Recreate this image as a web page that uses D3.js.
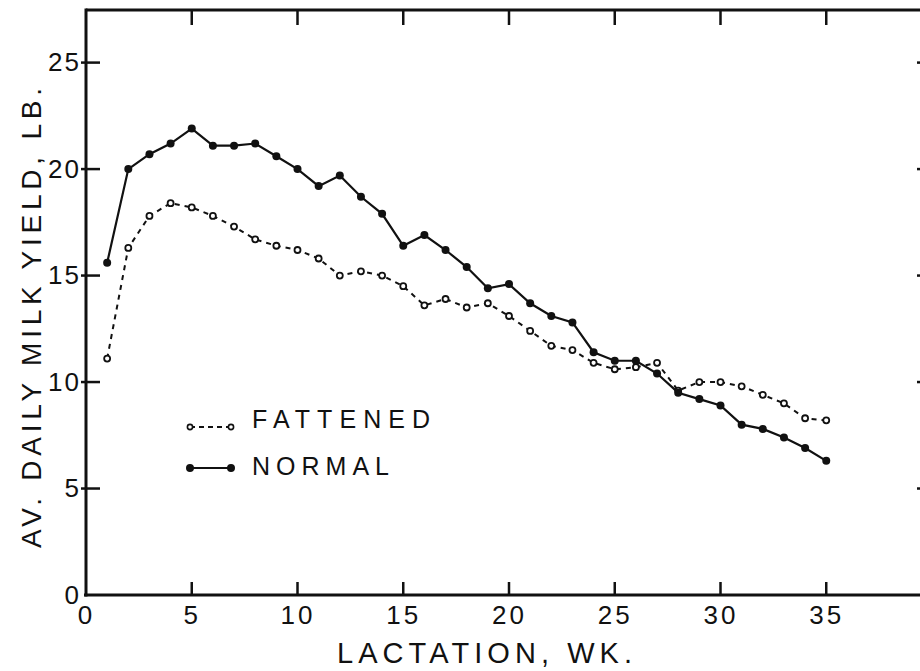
<!DOCTYPE html>
<html>
<head>
<meta charset="utf-8">
<script src="https://cdn.jsdelivr.net/npm/d3@7"></script>
<style>
  html, body { margin: 0; padding: 0; background: #fff; }
  svg { display: block; }
  text { font-family: "Liberation Sans", "DejaVu Sans", sans-serif; fill: #111; }
</style>
</head>
<body>
<svg id="chart" width="920" height="671"></svg>
<script>
// Lactation week of each observation
const weeks = [1, 2, 3, 4, 5, 6, 7, 8, 9, 10, 11, 12, 13, 14, 15, 16, 17, 18,
  19, 20, 21, 22, 23, 24, 25, 26, 27, 28, 29, 30, 31, 32, 33, 34, 35];

// Average daily milk yield (lb) per week
const normal = [15.6, 20.0, 20.7, 21.2, 21.9, 21.1, 21.1, 21.2, 20.6, 20.0,
  19.2, 19.7, 18.7, 17.9, 16.4, 16.9, 16.2, 15.4, 14.4, 14.6, 13.7, 13.1,
  12.8, 11.4, 11.0, 11.0, 10.4, 9.5, 9.2, 8.9, 8.0, 7.8, 7.4, 6.9, 6.3];
const fattened = [11.1, 16.3, 17.8, 18.4, 18.2, 17.8, 17.3, 16.7, 16.4, 16.2,
  15.8, 15.0, 15.2, 15.0, 14.5, 13.6, 13.9, 13.5, 13.7, 13.1, 12.4, 11.7,
  11.5, 10.9, 10.6, 10.7, 10.9, 9.6, 10.0, 10.0, 9.8, 9.4, 9.0, 8.3, 8.2];

const seriesNames = ["FATTENED", "NORMAL"];

// Tick values
const xTicks = [0, 5, 10, 15, 20, 25, 30, 35];
const xInnerTicks = [5, 10, 15, 20, 25, 30, 35, 40];
const yTicks = [0, 5, 10, 15, 20, 25];
const yInnerTicks = [5, 10, 15, 20, 25];
const xTickLabels = ["0", "5", "10", "15", "20", "25", "30", "35"];

const xTitle = "LACTATION, WK.";
const yTitle = "AV. DAILY MILK YIELD, LB.";

const svg = d3.select("#chart");

const plot = { left: 86, right: 932, top: 10, bottom: 595 };
const x = d3.scaleLinear().domain([0, 40]).range([plot.left, plot.right]);
const y = d3.scaleLinear().domain([0, 27.47]).range([plot.bottom, plot.top]);

// Frame (top and right edges)
const frame = svg.append("g").attr("stroke", "#111").attr("stroke-width", 3).attr("fill", "none");
frame.append("line").attr("x1", plot.left).attr("x2", plot.right).attr("y1", plot.top).attr("y2", plot.top);
frame.append("line").attr("x1", plot.right).attr("x2", plot.right).attr("y1", plot.top).attr("y2", plot.bottom);

// Bottom axis: line and labels
const gx = svg.append("g").attr("transform", `translate(0,${plot.bottom})`)
  .call(d3.axisBottom(x).tickValues(xTicks).tickSize(0)
    .tickPadding(11).tickFormat((d, i) => xTickLabels[i]));
gx.select(".domain").attr("stroke", "#111").attr("stroke-width", 3)
  .attr("d", `M${plot.left - 2},0H${plot.right}`);
gx.selectAll(".tick line").remove();
gx.selectAll(".tick text").attr("font-size", 26).attr("letter-spacing", 3)
  .attr("font-family", "Liberation Sans, sans-serif").attr("fill", "#111");

// Left axis: line and labels
const gy = svg.append("g").attr("transform", `translate(${plot.left},0)`)
  .call(d3.axisLeft(y).tickValues(yTicks).tickSize(0).tickPadding(5));
gy.select(".domain").attr("stroke", "#111").attr("stroke-width", 3)
  .attr("d", `M0,${plot.bottom + 1.5}V${plot.top - 1.5}`);
gy.selectAll(".tick line").remove();
gy.selectAll(".tick text").attr("font-size", 26).attr("letter-spacing", 2)
  .attr("font-family", "Liberation Sans, sans-serif").attr("fill", "#111");

// Inward tick marks on all four sides
const ticks = svg.append("g").attr("stroke", "#111").attr("stroke-width", 2.5);
ticks.selectAll(".tb").data(xInnerTicks).join("line").attr("class", "tb")
  .attr("x1", d => x(d)).attr("x2", d => x(d))
  .attr("y1", plot.bottom).attr("y2", plot.bottom - 13);
ticks.selectAll(".tt").data(xInnerTicks).join("line").attr("class", "tt")
  .attr("x1", d => x(d)).attr("x2", d => x(d))
  .attr("y1", plot.top).attr("y2", plot.top + 15);
ticks.selectAll(".tl").data(yInnerTicks).join("line").attr("class", "tl")
  .attr("x1", plot.left - 5).attr("x2", plot.left + 14)
  .attr("y1", d => y(d)).attr("y2", d => y(d));
ticks.selectAll(".tr").data(yInnerTicks).join("line").attr("class", "tr")
  .attr("x1", plot.right).attr("x2", plot.right - 15)
  .attr("y1", d => y(d)).attr("y2", d => y(d));

// Axis titles
svg.append("text").attr("x", 337).attr("y", 663)
  .attr("font-size", 29).attr("textLength", 295).attr("lengthAdjust", "spacing")
  .text(xTitle);
svg.append("text").attr("transform", "translate(41,548) rotate(-90)")
  .attr("font-size", 28).attr("textLength", 460).attr("lengthAdjust", "spacing")
  .text(yTitle);

// Series
const rows = weeks.map((w, i) => ({ w, n: normal[i], f: fattened[i] }));

const lineN = d3.line().x(d => x(d.w)).y(d => y(d.n));
const lineF = d3.line().x(d => x(d.w)).y(d => y(d.f));

svg.append("path").datum(rows).attr("d", lineF)
  .attr("fill", "none").attr("stroke", "#111").attr("stroke-width", 2)
  .attr("stroke-dasharray", "5,5");
svg.append("path").datum(rows).attr("d", lineN)
  .attr("fill", "none").attr("stroke", "#111").attr("stroke-width", 2.2);

svg.append("g").selectAll("circle").data(rows).join("circle")
  .attr("cx", d => x(d.w)).attr("cy", d => y(d.f)).attr("r", 3)
  .attr("fill", "#fff").attr("stroke", "#111").attr("stroke-width", 1.8);
svg.append("g").selectAll("circle").data(rows).join("circle")
  .attr("cx", d => x(d.w)).attr("cy", d => y(d.n)).attr("r", 4)
  .attr("fill", "#111");

// Legend
const legend = svg.append("g");
const legendRows = [
  { name: seriesNames[0], y: 427, dash: "5,4", open: true, textY: 428, len: 178 },
  { name: seriesNames[1], y: 468, dash: null, open: false, textY: 475, len: 137 }
];
legendRows.forEach(r => {
  legend.append("line").attr("x1", 190).attr("x2", 231).attr("y1", r.y).attr("y2", r.y)
    .attr("stroke", "#111").attr("stroke-width", 2).attr("stroke-dasharray", r.dash);
  [190, 231].forEach(cx => {
    legend.append("circle").attr("cx", cx).attr("cy", r.y).attr("r", r.open ? 2.6 : 3.2)
      .attr("fill", r.open ? "#fff" : "#111").attr("stroke", "#111").attr("stroke-width", 1.6);
  });
  legend.append("text").attr("x", 252).attr("y", r.textY).attr("font-size", 25)
    .attr("textLength", r.len).attr("lengthAdjust", "spacing").text(r.name);
});
</script>
</body>
</html>
